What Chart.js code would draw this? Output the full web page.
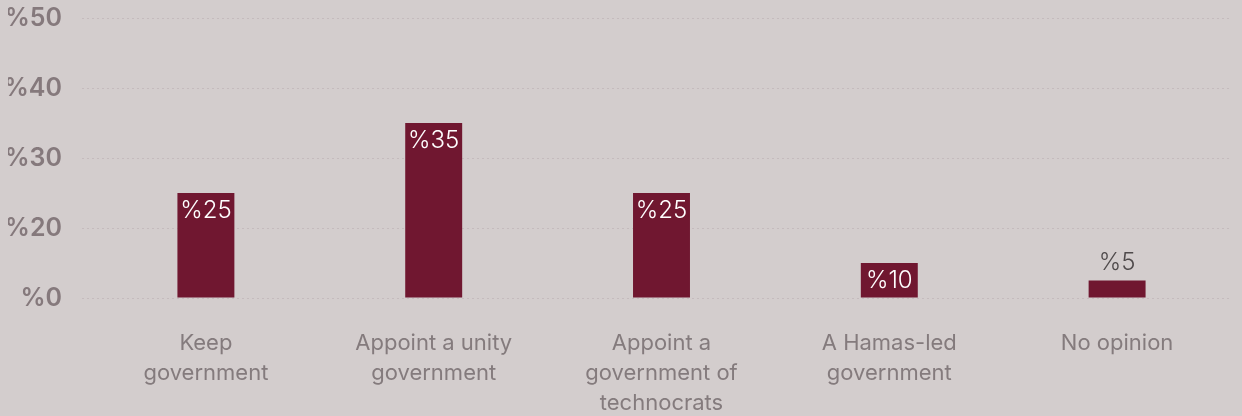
<!DOCTYPE html>
<html>
<head>
<meta charset="utf-8">
<script src="https://cdn.jsdelivr.net/npm/chart.js@4/dist/chart.umd.min.js"></script>
<style>
  html, body { margin: 0; padding: 0; background: #d3cdcd; }
  #wrap { width: 1242px; height: 416px; position: relative; }
</style>
</head>
<body>
<div id="wrap"><canvas id="chart"></canvas></div>
<script>
// Survey answers on the future government
const categories = [
  ['Keep', 'government'],
  ['Appoint a unity', 'government'],
  ['Appoint a', 'government of', 'technocrats'],
  ['A Hamas-led', 'government'],
  ['No opinion']
];
const shares = [25, 35, 25, 10, 5];
// Value axis ticks, drawn evenly spaced
const axisTicks = [0, 20, 30, 40, 50];

const BAR = '#701730';

// Linear axis whose ticks sit at equal spacing; values are placed
// proportionally between neighbouring ticks.
class SteppedPercentScale extends Chart.LinearScale {
  static id = 'steppedPercent';
  buildTicks() {
    return axisTicks.map(v => ({ value: v }));
  }
  getPixelForValue(value) {
    if (value === null || value === undefined || isNaN(value)) return NaN;
    const t = axisTicks, n = t.length - 1;
    let i = 0;
    while (i < n - 1 && value > t[i + 1]) i++;
    const frac = (i + (value - t[i]) / (t[i + 1] - t[i])) / n;
    return this.getPixelForDecimal(frac);
  }
  getValueForPixel(pixel) {
    const t = axisTicks, n = t.length - 1;
    const d = this.getDecimalForPixel(pixel) * n;
    const i = Math.min(Math.max(Math.floor(d), 0), n - 1);
    return t[i] + (d - i) * (t[i + 1] - t[i]);
  }
}
Chart.register(SteppedPercentScale);

// Percent labels at the top of each bar (above it when the bar is short)
const barValueLabels = {
  id: 'barValueLabels',
  afterDatasetsDraw(chart) {
    const ctx = chart.ctx;
    const meta = chart.getDatasetMeta(0);
    ctx.save();
    ctx.font = '300 24px Inter, "Liberation Sans", sans-serif';
    ctx.textAlign = 'center';
    meta.data.forEach((bar, i) => {
      const v = chart.data.datasets[0].data[i];
      const h = bar.base - bar.y;
      if (h >= 30) {
        ctx.fillStyle = '#ffffff';
        ctx.textBaseline = 'middle';
        ctx.fillText('%' + v, bar.x, bar.y + 18);
      } else {
        ctx.fillStyle = '#4f4a4b';
        ctx.textBaseline = 'bottom';
        ctx.fillText('%' + v, bar.x, bar.y - 6);
      }
    });
    ctx.restore();
  }
};

new Chart(document.getElementById('chart'), {
  type: 'bar',
  data: {
    labels: categories,
    datasets: [{
      data: shares,
      backgroundColor: BAR,
      borderWidth: 0,
      categoryPercentage: 1,
      barPercentage: 0.25
    }]
  },
  options: {
    responsive: true,
    maintainAspectRatio: false,
    animation: false,
    layout: { padding: { left: 8, right: 11, top: 18, bottom: 0 } },
    plugins: {
      legend: { display: false },
      tooltip: { enabled: false }
    },
    scales: {
      x: {
        afterFit: s => { s.height = 118; s.paddingLeft = 0; s.paddingRight = 0; },
        grid: { display: false, drawTicks: false },
        border: { display: false },
        ticks: {
          color: '#847b7d',
          font: { family: 'Inter, "Liberation Sans", sans-serif', size: 22, weight: 400, lineHeight: '30px' },
          padding: 30,
          maxRotation: 0,
          autoSkip: false
        }
      },
      y: {
        type: 'steppedPercent',
        min: 0,
        max: 50,
        afterFit: s => { s.width = 84; s.paddingTop = 0; s.paddingBottom = 0; },
        grid: {
          color: '#c5bbbd',
          lineWidth: 1,
          drawTicks: true,
          tickLength: 10,
          tickColor: '#c5bbbd',
          tickBorderDash: [2, 3]
        },
        border: { display: false, dash: [2, 3] },
        ticks: {
          color: '#85797c',
          font: { family: 'Inter, "Liberation Sans", sans-serif', size: 25, weight: 600 },
          padding: 20,
          callback: v => '%' + v
        }
      }
    }
  },
  plugins: [barValueLabels]
});
</script>
</body>
</html>
